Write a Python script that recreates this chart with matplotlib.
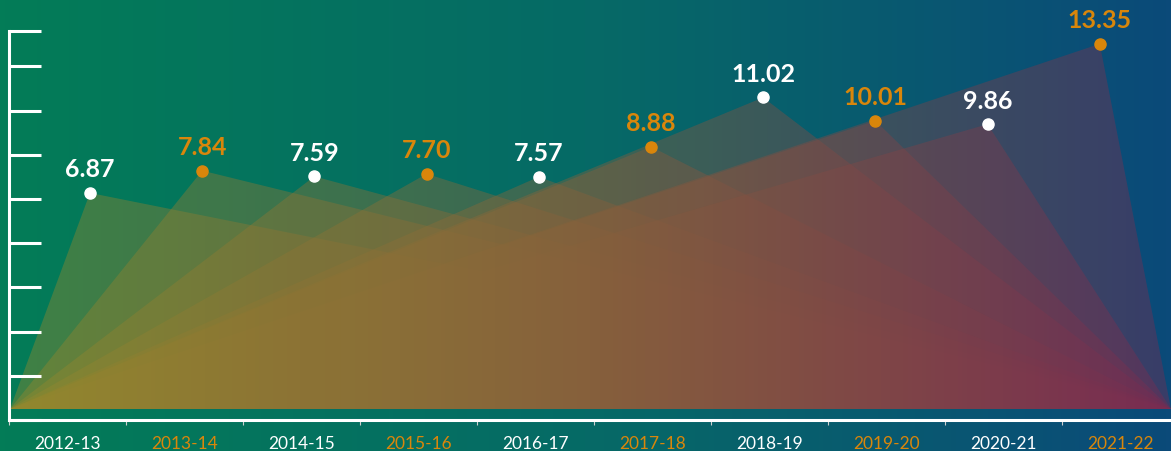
import numpy as np
import matplotlib.pyplot as plt
from matplotlib.colors import LinearSegmentedColormap
from matplotlib.patches import Polygon

# data
YEARS = ["2012-13", "2013-14", "2014-15", "2015-16", "2016-17",
         "2017-18", "2018-19", "2019-20", "2020-21", "2021-22"]
VALUES = [6.87, 7.84, 7.59, 7.70, 7.57, 8.88, 11.02, 10.01, 9.86, 13.35]

WHITE = "white"
ORANGE = "#d9860b"
COLORS = [WHITE if i % 2 == 0 else ORANGE for i in range(len(YEARS))]

W, H = 1171, 452


def box(left, top, right, bottom):
    """Pixel box (from top-left) -> figure fraction rect."""
    return [left / W, 1 - bottom / H, (right - left) / W, (bottom - top) / H]


fig = plt.figure(figsize=(W / 100, H / 100), dpi=100)

# background gradient
bg_cmap = LinearSegmentedColormap.from_list("bg", ["#037c57", "#066a66", "#0b4a79"])
bg = fig.add_axes([0, 0, 1, 1])
bg.imshow(np.linspace(0, 1, 256)[None, :], cmap=bg_cmap, aspect="auto", extent=[0, 1, 0, 1])
bg.axis("off")

# triangles
tri_cmap = LinearSegmentedColormap.from_list("tri", ["#948a2e", "#88603c", "#7a2c52"])
tri = fig.add_axes(box(10, 0, 1171, 410))
tri.set_facecolor("none")
x0, x1 = -0.713, 9.635
y0, y1 = -2.52, 15.3
grad = np.linspace(0, 1, 256)[None, :]
for i, v in enumerate(VALUES):
    poly = Polygon([(x0, y0), (i, v), (x1, y0)], closed=True,
                   facecolor="none", edgecolor="none")
    tri.add_patch(poly)
    im = tri.imshow(grad, cmap=tri_cmap, extent=[x0, x1, y0, y1],
                    aspect="auto", alpha=0.42, zorder=1)
    im.set_clip_path(poly)

for i, (v, c) in enumerate(zip(VALUES, COLORS)):
    tri.plot(i, v, "o", color=c, ms=8, zorder=5, clip_on=False)
    tri.annotate(f"{v:.2f}", (i, v), xytext=(0, 9), textcoords="offset points",
                 ha="center", va="bottom", fontsize=18, fontweight="bold",
                 color=c, family="Lato")
tri.set_xlim(x0, x1)
tri.set_ylim(y0, y1)
tri.axis("off")

# axis frame
frame = fig.add_axes(box(9, 32, 9 + 117 * 10, 421))
frame.set_facecolor("none")
frame.set_xlim(0, 10)
frame.set_ylim(0, 8.8)
for s in ["top", "right"]:
    frame.spines[s].set_visible(False)
for s in ["left", "bottom"]:
    frame.spines[s].set_color(WHITE)
    frame.spines[s].set_linewidth(2.2)
frame.set_yticks(list(range(9)) + [8.8])
frame.set_yticklabels([])
frame.tick_params(axis="y", direction="in", length=23, width=2.2, color=WHITE)
frame.set_xticks(range(11))
frame.set_xticklabels([])
frame.tick_params(axis="x", which="major", direction="out", length=3.6,
                  width=0.8, color="#d0d0d0")
frame.set_xticks(np.arange(10) + 0.5, minor=True)
frame.set_xticklabels(YEARS, minor=True, fontsize=12.5, family="Lato")
frame.tick_params(axis="x", which="minor", length=0, pad=11)
for lbl, c in zip(frame.get_xticklabels(minor=True), COLORS):
    lbl.set_color(c)

fig.savefig("out.png", dpi=100)
